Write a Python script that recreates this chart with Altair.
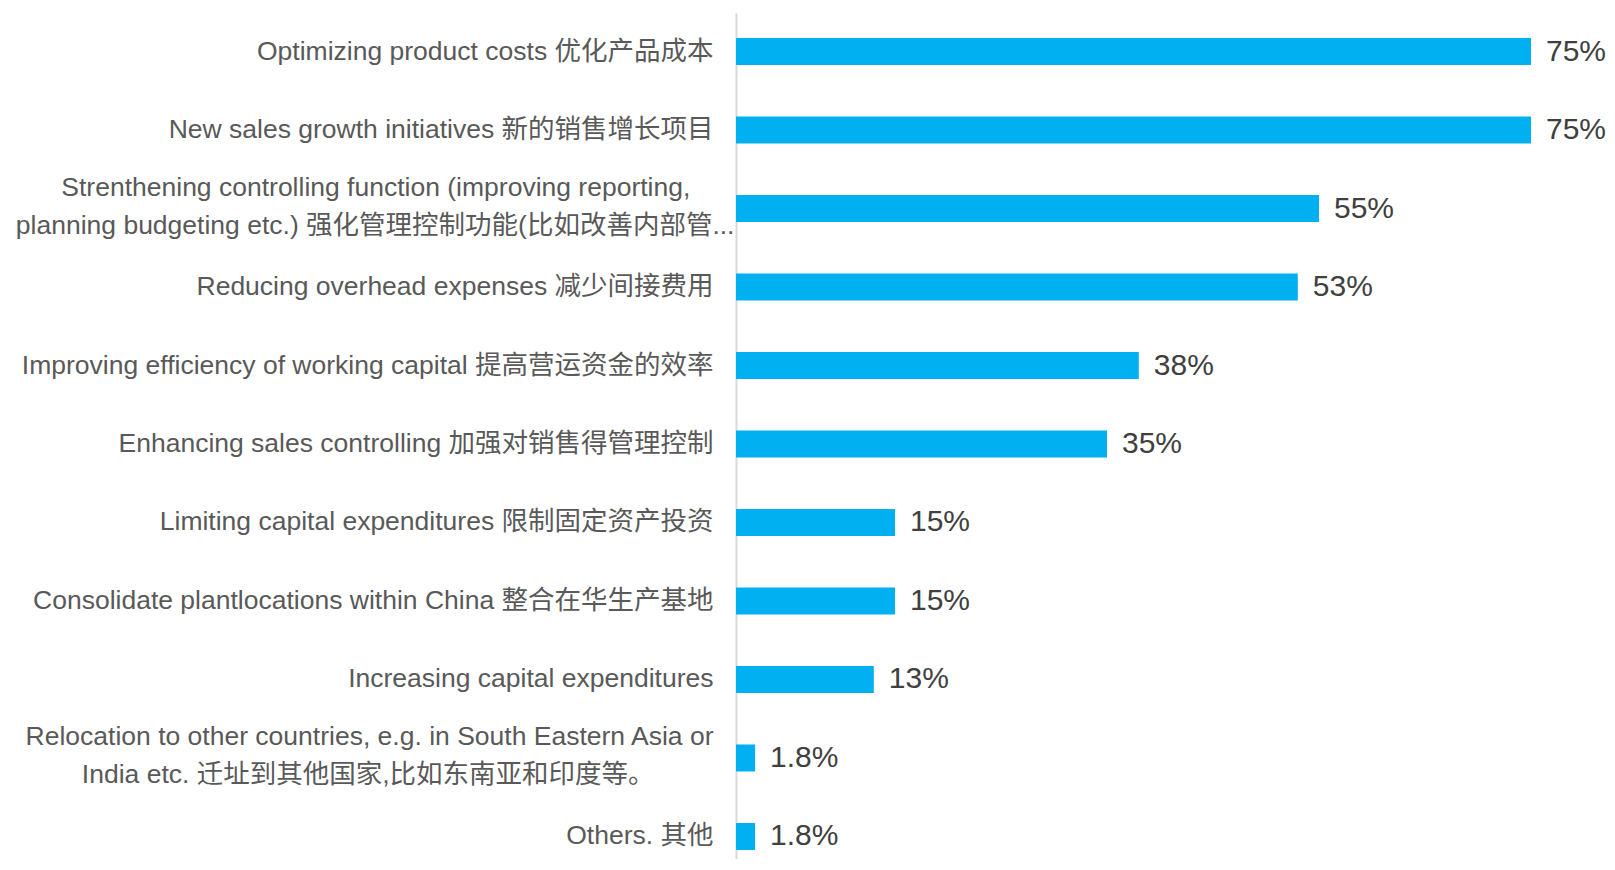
import altair as alt
import pandas as pd

NB = "\u00a0"
ZW = "\u200b"
categories = [
    "Optimizing product costs 优化产品成本",
    "New sales growth initiatives 新的销售增长项目",
    "Strenthening controlling function (improving reporting," + NB * 6 + ZW + "\nplanning budgeting etc.) 强化管理控制功能(比如改善内部管...",
    "Reducing overhead expenses 减少间接费用",
    "Improving efficiency of working capital 提高营运资金的效率",
    "Enhancing sales controlling 加强对销售得管理控制",
    "Limiting capital expenditures 限制固定资产投资",
    "Consolidate plantlocations within China 整合在华生产基地",
    "Increasing capital expenditures",
    "Relocation to other countries, e.g. in South Eastern Asia or\nIndia etc. 迁址到其他国家,比如东南亚和印度等。" + NB * 8 + ZW,
    "Others. 其他",
]
values = [0.75, 0.75, 0.55, 0.53, 0.38, 0.35, 0.15, 0.15, 0.13, 0.018, 0.018]

df = pd.DataFrame({"category": categories, "value": values})

FONT = "Liberation Sans, Arial, Noto Sans CJK SC"

y = alt.Y(
    "category:N",
    sort=categories,
    title=None,
    scale=alt.Scale(paddingInner=0.656, paddingOuter=0.217, align=0.735),
    axis=alt.Axis(
        labelExpr="split(datum.value, '\\n')",
        labelFont=FONT,
        labelFontSize=26.5,
        labelColor="#595959",
        labelLimit=900,
        labelPadding={
            "condition": {"test": "indexof(datum.value, 'Strenthening') >= 0", "value": 2},
            "value": 23,
        },
        labelOffset={
            "condition": {"test": "indexof(datum.value, '\\n') >= 0", "value": -21},
            "value": 0,
        },
        labelLineHeight=38,
        ticks=False,
        domainColor="#D9D9D9",
        domainWidth=2,
        grid=False,
    ),
)
x = alt.X("value:Q", scale=alt.Scale(domain=[0, 0.8]), axis=None)

bars = alt.Chart(df).mark_bar(color="#00B0F0").encode(x=x, y=y)
text = alt.Chart(df).mark_text(
    align="left", baseline="middle", dx=15, font=FONT, fontSize=30, color="#404040"
).encode(x=x, y=y, text=alt.Text("value:Q", format=".2p"))

chart = (
    alt.layer(bars, text)
    .properties(
        width=848,
        height=846,
        autosize=alt.AutoSizeParams(type="none"),
        padding={"left": 728, "top": 5, "right": 22, "bottom": 0},
    )
    .configure_view(stroke=None)
)

chart.save("out.html", embed_options={"renderer": "svg", "actions": False})
